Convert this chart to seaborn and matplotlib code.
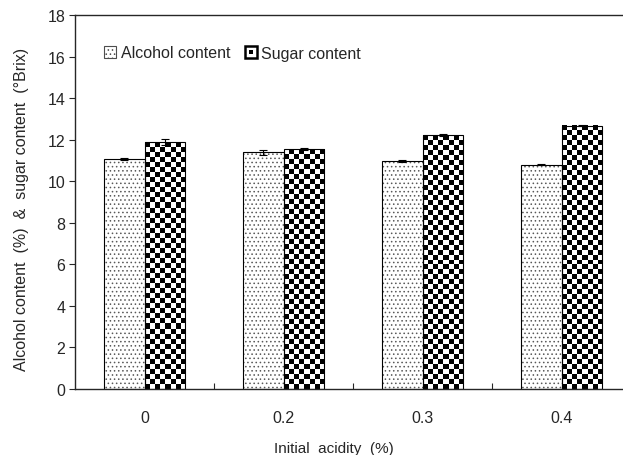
import numpy as np
import pandas as pd
import matplotlib
matplotlib.use("Agg")
import matplotlib.pyplot as plt
import seaborn as sns
from matplotlib.patches import Patch, Rectangle
from matplotlib.legend_handler import HandlerBase

# data
acidity = ["0", "0.2", "0.3", "0.4"]
alcohol = [11.07, 11.39, 10.96, 10.79]
alcohol_sd = [0.05, 0.13, 0.05, 0.03]
sugar = [11.87, 11.55, 12.22, 12.67]
sugar_sd = [0.15, 0.05, 0.03, 0.03]
series = ["Alcohol content", "Sugar content"]
yticks = [0, 2, 4, 6, 8, 10, 12, 14, 16, 18]

sns.set_style("ticks")
plt.rcParams["font.family"] = ["Liberation Sans", "DejaVu Sans"]
plt.rcParams["hatch.linewidth"] = 0.6

df = pd.DataFrame({
    "acidity": acidity * 2,
    "value": alcohol + sugar,
    "measure": [series[0]] * 4 + [series[1]] * 4,
})

fig = plt.figure(figsize=(6.23, 4.56), dpi=100)
ax = fig.add_axes([75 / 623, 66 / 456, 556 / 623, 374 / 456])

sns.barplot(data=df, x="acidity", y="value", hue="measure", order=acidity,
            hue_order=series, palette=["white", "white"], width=0.58, gap=0,
            errorbar=None, edgecolor="black", linewidth=0.8, legend=False, ax=ax)

ax.set_xlim(-0.5, 3.5)
ax.set_ylim(0, 18)


def checker_fill(ax, patch, cell_px=5):
    x0, y0 = patch.get_x(), patch.get_y()
    w, h = patch.get_width(), patch.get_height()
    (px0, py0), (px1, py1) = ax.transData.transform([(x0, y0), (x0 + w, y0 + h)])
    nx = max(1, round((px1 - px0) / cell_px))
    ny = max(1, round((py1 - py0) / cell_px))
    grid = (np.add.outer(np.arange(ny), np.arange(nx)) % 2).astype(float)
    ax.imshow(grid, cmap="gray", vmin=0, vmax=1, extent=(x0, x0 + w, y0, y0 + h),
              origin="lower", aspect="auto", interpolation="nearest", zorder=1.5)


for p in ax.containers[0]:
    p.set_facecolor("white")
    p.set_hatch("....")
    p.set_edgecolor("black")
    p._hatch_color = (0.35, 0.35, 0.35, 1)
    p.set_zorder(2)

for p in ax.containers[1]:
    checker_fill(ax, p)
    p.set_facecolor("none")
    p.set_zorder(2)

for cont, means, sds in [(ax.containers[0], alcohol, alcohol_sd), (ax.containers[1], sugar, sugar_sd)]:
    xs = [p.get_x() + p.get_width() / 2 for p in cont]
    ax.errorbar(xs, means, yerr=sds, fmt="none", ecolor="black", elinewidth=0.8,
                capsize=3, capthick=0.8, zorder=3)

ax.set_xlim(-0.5, 3.5)
ax.set_ylim(0, 18)
ax.set_yticks(yticks)
ax.set_xticks(range(len(acidity)))
ax.set_xticklabels(acidity)
ax.set_xticks([0.5, 1.5, 2.5], minor=True)
ax.tick_params(axis="y", direction="out", length=4, width=0.8, labelsize=11.5, pad=3)
ax.tick_params(axis="x", which="major", length=0, labelsize=11.5, pad=15)
ax.tick_params(axis="x", which="minor", direction="in", length=4, width=0.8)
for s in ax.spines.values():
    s.set_linewidth(1.0)

ax.set_xlabel("Initial  acidity  (%)", fontsize=11)
ax.set_ylabel("Alcohol content  (%)  &  sugar content  (°Brix)", fontsize=11.5)
ax.xaxis.set_label_coords(0.466, -0.138)
ax.yaxis.set_label_coords(-0.083, 0.482)


class CheckerHandler(HandlerBase):
    def create_artists(self, legend, orig_handle, xdescent, ydescent, width, height, fontsize, trans):
        outer = Rectangle((-xdescent, -ydescent), width, height, facecolor="white",
                          edgecolor="black", lw=1.8, transform=trans)
        inner = Rectangle((-xdescent + width * 0.33, -ydescent + height * 0.33), width * 0.34,
                          height * 0.34, facecolor="black", edgecolor="none", transform=trans)
        return [outer, inner]


h_alc = Patch(facecolor="white", edgecolor="0.3", hatch="....", linewidth=0.8)
h_sug = Patch(facecolor="white", edgecolor="black")
fig.legend([h_alc, h_sug], series, handler_map={h_sug: CheckerHandler()},
           loc="center left", bbox_to_anchor=(104 / 623, 1 - 54 / 456), ncol=2,
           frameon=False, fontsize=11.5, borderpad=0, borderaxespad=0,
           handlelength=0.75, handleheight=0.75, handletextpad=0.3, columnspacing=0.9)

fig.savefig("out.png", dpi=100)
